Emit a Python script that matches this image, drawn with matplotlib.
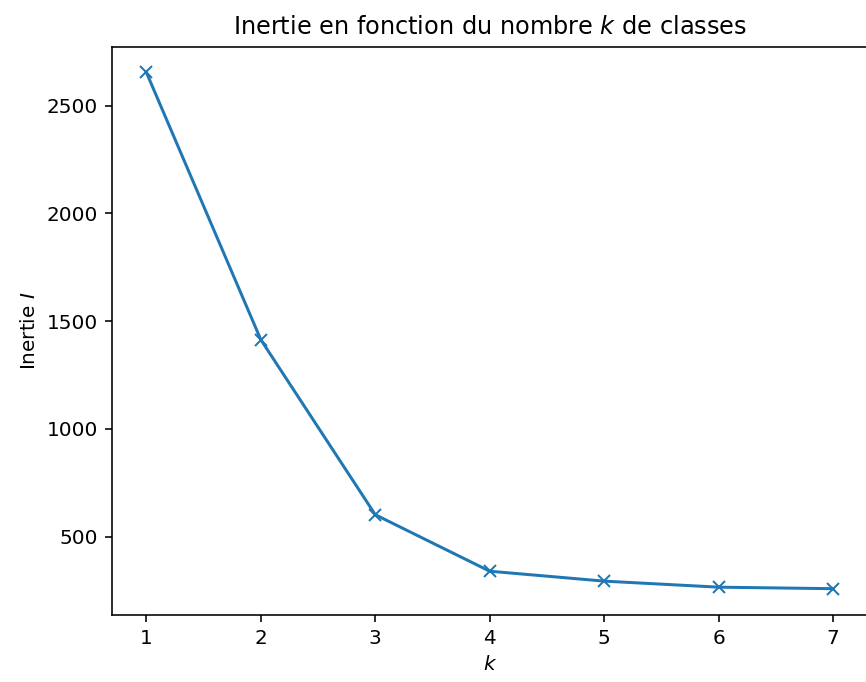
import matplotlib
matplotlib.use("Agg")
import matplotlib.pyplot as plt

# Inertie du k-means selon le nombre de classes
k_values = [1, 2, 3, 4, 5, 6, 7]
inertie = [2654, 1414, 602, 340, 294, 266, 259]

W, H = 866, 682
fig = plt.figure(figsize=(W / 144, H / 144), dpi=144)
# axes box in pixels: left 112, right ~867 (right spine just off the picture), top 46.5, bottom 614.5
ax = fig.add_axes([112 / W, 1 - 614.5 / H, (867.5 - 112) / W, (614.5 - 46.5) / H])

ax.plot(k_values, inertie, marker="x")
ax.set_title("Inertie en fonction du nombre $k$ de classes")
ax.set_xlabel("$k$")
ax.set_ylabel("Inertie $I$")

fig.savefig("out.png", dpi=144)
